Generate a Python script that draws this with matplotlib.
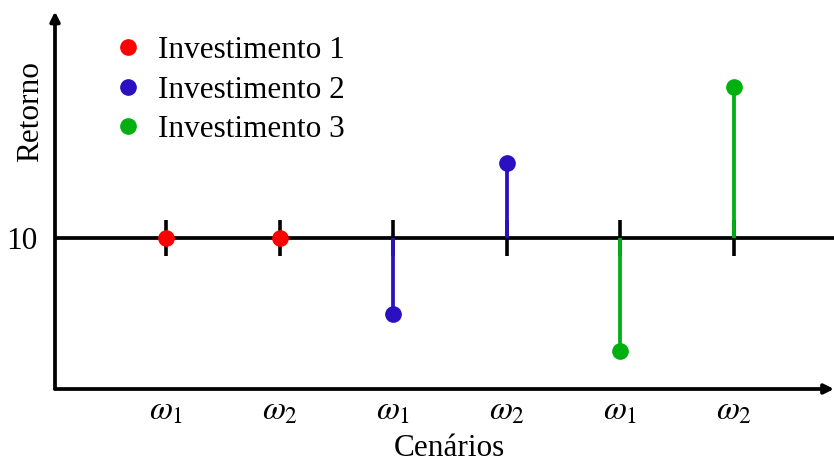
import matplotlib
matplotlib.use("Agg")
import matplotlib.pyplot as plt
from matplotlib.lines import Line2D

plt.rcParams["font.family"] = ["Liberation Serif", "DejaVu Serif"]
plt.rcParams["mathtext.fontset"] = "stix"

# Scenario positions and labels
scenario_pos = [1, 2, 3, 4, 5, 6]
scenario_labels = [r"$\omega_1$", r"$\omega_2$", r"$\omega_1$", r"$\omega_2$", r"$\omega_1$", r"$\omega_2$"]

# Returns per investment
baseline = 10
inv1_x = [1, 2]
inv1_y = [10, 10]
inv2_x = [3, 4]
inv2_y = [5, 15]
inv3_x = [5, 6]
inv3_y = [2.5, 20]

series_names = ["Investimento 1", "Investimento 2", "Investimento 3"]
colors = ["#ff0000", "#2a10c0", "#00b010"]

W, H = 834, 463
fig = plt.figure(figsize=(W / 100, H / 100), dpi=100)
ax_left, ax_bottom_px, ax_top_px = 55, 389, 11.5
ax = fig.add_axes([ax_left / W, (H - ax_bottom_px) / H, (W - ax_left) / W,
                   (ax_bottom_px - ax_top_px) / H])
ax.set_xlim(1 - (166 - 55) / 113.6, 1 + (W - 166) / 113.6)
ax.set_ylim(0, 25)

for s in ax.spines.values():
    s.set_visible(False)

# Axes drawn as arrows
ax.annotate("", xy=(1.0, 0), xytext=(0, 0), xycoords="axes fraction",
            arrowprops=dict(arrowstyle="-|>", lw=2.7, color="black",
                            mutation_scale=14, shrinkA=0, shrinkB=0))
ax.annotate("", xy=(0, 1.0), xytext=(0, 0), xycoords="axes fraction",
            arrowprops=dict(arrowstyle="-|>", lw=2.7, color="black",
                            mutation_scale=14, shrinkA=0, shrinkB=0))

# Reference line at the baseline return
ax.axhline(baseline, color="black", lw=2.7, zorder=2)
ax.vlines(scenario_pos, baseline - 1.2, baseline + 1.2, color="black", lw=2.6, zorder=2)

for xs, ys, c in [(inv1_x, inv1_y, colors[0]), (inv2_x, inv2_y, colors[1]),
                  (inv3_x, inv3_y, colors[2])]:
    ax.vlines(xs, baseline, ys, color=c, lw=2.7, zorder=3)
    ax.plot(xs, ys, "o", color=c, ms=11, zorder=4, clip_on=False)

ax.set_xticks(scenario_pos)
ax.set_xticklabels(scenario_labels, fontsize=24)
ax.set_yticks([baseline])
ax.set_yticklabels(["10"], fontsize=22.5)
ax.tick_params(axis="both", length=0)
ax.tick_params(axis="x", pad=5)
ax.tick_params(axis="y", pad=12.5)

fig.text(449 / W, 1 - 449 / H, "Cenários", fontsize=22.5, ha="center", va="center")
fig.text(31 / W, 1 - 112 / H, "Retorno", fontsize=22.5, ha="center", va="center",
         rotation=90)

handles = [Line2D([], [], marker="o", ls="none", color=c, ms=11) for c in colors]
leg = ax.legend(handles, series_names, loc="upper left", frameon=False,
                fontsize=22.5, bbox_to_anchor=(105 / W, 1 - 36 / H),
                bbox_transform=fig.transFigure, handletextpad=0.2,
                labelspacing=0.34, handlelength=1.5, borderaxespad=0, borderpad=0)

fig.savefig("out.png", dpi=100)
